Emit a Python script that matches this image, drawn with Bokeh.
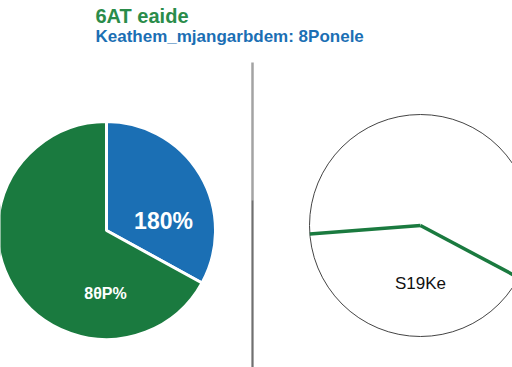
import numpy as np
from bokeh.plotting import figure
from bokeh.models import ColumnDataSource
from bokeh.core.properties import value
from bokeh.embed import file_html
from bokeh.resources import INLINE

# ---- data ----
title_main = "6AT eaide"
title_sub = "Keathem_mjangarbdem: 8Ponele"
left_categories = ["Blue", "Green"]
left_values = [33, 67]
left_labels = ["180%", "8\u03b8P%"]
left_colors = ["#1b6fb4", "#1a7a3f"]
right_categories = ["A", "B"]
right_values = [59, 41]
right_label = "S19Ke"

W, H = 512, 367
p = figure(width=W, height=H, x_range=(0, W), y_range=(0, H),
           output_backend="svg", toolbar_location=None, min_border=0)
p.axis.visible = False
p.grid.visible = False
p.outline_line_color = None
p.background_fill_color = "white"

# ---- left pie ----
lcx, lcy, lr = 106, 137, 109
fr = np.array(left_values, dtype=float) / sum(left_values)
top = np.pi / 2
blue_start = top - fr[0] * 2 * np.pi
src = ColumnDataSource(dict(
    cat=left_categories,
    start=[blue_start, top],
    end=[top, blue_start],
    color=left_colors,
))
p.wedge(x=lcx, y=lcy, radius=lr, start_angle="start", end_angle="end",
        fill_color="color", line_color="white", line_width=3, source=src)

label_dx = [57, -1]
label_dy = [10, -63]
label_sizes = ["23px", "16px"]
for i in range(2):
    p.text(x=[lcx + label_dx[i]], y=[lcy + label_dy[i]], text=[left_labels[i]],
           text_color="white", text_font=value("Liberation Sans"), text_font_style="bold",
           text_font_size=label_sizes[i], text_align="center", text_baseline="middle")

# ---- divider ----
p.segment(x0=[252], y0=[0], x1=[252], y1=[H - 62], line_color="#a3a3a3", line_width=2.5)
p.segment(x0=[252], y0=[0], x1=[252], y1=[H - 200], line_color="#707070", line_width=1.5)

# ---- right pie ----
rcx, rcy, rr = 420, 142, 111
p.circle(x=[rcx], y=[rcy], radius=rr, fill_color=None, line_color="#444444", line_width=1)
rfr = np.array(right_values, dtype=float) / sum(right_values)
r_start = np.deg2rad(-28)
bounds = [r_start, r_start + rfr[0] * 2 * np.pi]
p.ray(x=[rcx, rcx], y=[rcy, rcy], length=rr, angle=bounds, length_units="data",
      line_color="#1a7a3f", line_width=3.5)
p.text(x=[rcx], y=[rcy - 58], text=[right_label], text_color="#111111",
       text_font=value("Liberation Sans"), text_font_size="17px",
       text_align="center", text_baseline="middle")

# ---- titles ----
p.text(x=[95], y=[H - 15], text=[title_main], text_color="#2a8c4a",
       text_font=value("Liberation Sans"), text_font_style="bold", text_font_size="20px",
       text_align="left", text_baseline="middle")
p.text(x=[95], y=[H - 36], text=[title_sub], text_color="#1b6fb4",
       text_font=value("Liberation Sans"), text_font_style="bold", text_font_size="17px",
       text_align="left", text_baseline="middle")

open("out.html", "w").write(file_html(p, INLINE))
